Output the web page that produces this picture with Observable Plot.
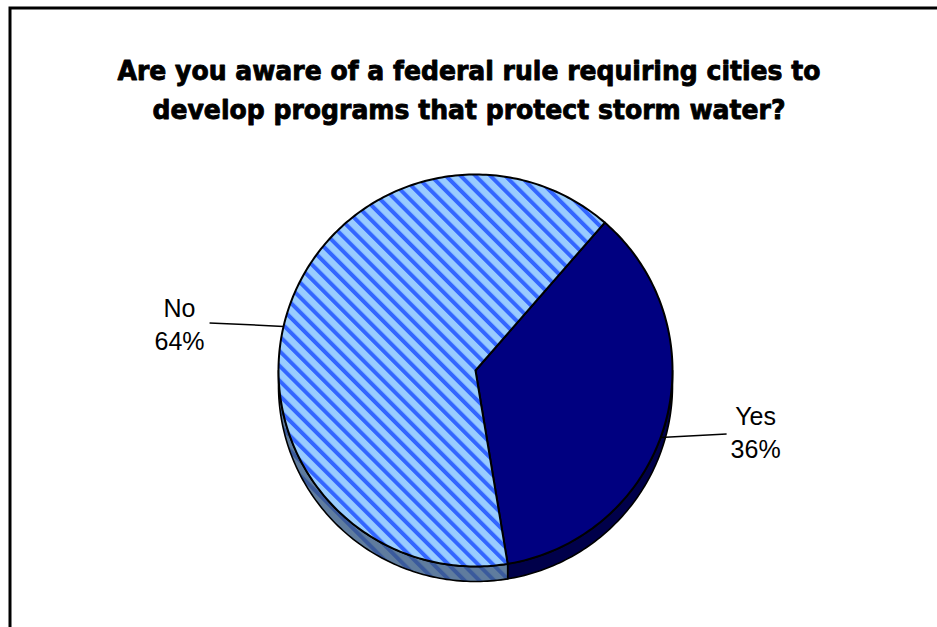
<!DOCTYPE html>
<html><head><meta charset="utf-8">
<script src="https://cdn.jsdelivr.net/npm/d3@7"></script>
<script src="https://cdn.jsdelivr.net/npm/@observablehq/plot@0.6"></script>
<style>
html,body{margin:0;padding:0;background:#fff;overflow:hidden;}
#chart{position:relative;width:937px;height:627px;overflow:hidden;}
#chart svg{overflow:hidden;}
</style></head><body><div id="chart"></div>
<script>
// ---- data ----
const titleLines = ["Are you aware of a federal rule requiring cities to", "develop programs that protect storm water?"];
const categories = ["Yes", "No"];
const percents = [36, 64];
const percentLabels = ["36%", "64%"];

// ---- layout ----
const W = 937, H = 627;
const cx = 475, cy = 370, rx = 197, ry = 196, depth = 15;
const startDeg = 41;
const topFill = {Yes: "#000080", No: "url(#stripeTop)"};
const sideFill = {Yes: "#00004a", No: "url(#stripeSide)"};
const leaderAngle = {Yes: 110, No: 283};
const leaderDx = {Yes: 66, No: -74};
const textDx = {Yes: 29, No: -30};
const textDy = {Yes: -3, No: 0};
const titleLength = [703, 633];
const dv = depth / ry;
const rad = d => d * Math.PI / 180;
const pt = (deg, drop = 0) => ({u: Math.sin(rad(deg)), v: Math.cos(rad(deg)) - drop});
function arc(a0, a1, drop = 0) {
  const pts = [];
  const n = Math.max(2, Math.ceil(Math.abs(a1 - a0)));
  for (let i = 0; i <= n; i++) pts.push(pt(a0 + (a1 - a0) * i / n, drop));
  return pts;
}

let acc = startDeg;
const slices = categories.map((c, i) => {
  const a0 = acc, a1 = acc + percents[i] * 3.6;
  acc = a1;
  return {cat: c, a0, a1, label: c + "\n" + percentLabels[i]};
});

const sideMarks = [], topMarks = [];
for (const s of slices) {
  for (const off of [0, -360]) {
    const lo = Math.max(s.a0 + off, 90), hi = Math.min(s.a1 + off, 270);
    if (hi > lo) {
      const poly = [...arc(lo, hi), ...arc(hi, lo, dv)];
      poly.push(poly[0]);
      sideMarks.push(Plot.line(poly, {x: "u", y: "v", fill: sideFill[s.cat], stroke: "#000", strokeWidth: 1.6, strokeLinejoin: "round"}));
    }
  }
  const poly = [{u: 0, v: 0}, ...arc(s.a0, s.a1), {u: 0, v: 0}];
  topMarks.push(Plot.line(poly, {x: "u", y: "v", fill: topFill[s.cat], stroke: "#000", strokeWidth: 2, strokeLinejoin: "round"}));
}

const leaders = slices.map(s => {
  const p = pt(leaderAngle[s.cat]);
  const u2 = p.u + leaderDx[s.cat] / rx, v2 = p.v + 3.5 / ry;
  return {cat: s.cat, u1: p.u, v1: p.v, u2, v2,
    tu: u2 + textDx[s.cat] / rx, tv: v2 - textDy[s.cat] / ry, label: s.label};
});

const titleFont = {fontSize: 27, fontWeight: "bold", fontFamily: "DejaVu Sans, sans-serif", fill: "#000",
  stroke: "#000", strokeWidth: 0.9, lineAnchor: "top", frameAnchor: "top"};

const chart = Plot.plot({
  width: W, height: H,
  margin: 0,
  x: {domain: [-cx / rx, (W - cx) / rx], range: [0, W], axis: null},
  y: {domain: [(cy - H) / ry, cy / ry], range: [H, 0], axis: null},
  style: {background: "#fff"},
  marks: [
    Plot.frame({insetLeft: 9.5, insetTop: 7.5, insetRight: -20, insetBottom: -20, stroke: "#000", strokeWidth: 3}),
    ...sideMarks,
    ...topMarks,
    Plot.link(leaders, {x1: "u1", y1: "v1", x2: "u2", y2: "v2", stroke: "#000", strokeWidth: 1.5}),
    Plot.text(leaders, {x: "tu", y: "tv", text: "label", fontSize: 25, lineHeight: 1.3,
      fontFamily: "Liberation Sans, Arial, sans-serif", fill: "#000", textAnchor: "middle", lineAnchor: "middle"}),
    Plot.text([titleLines[0]], {...titleFont, text: d => d, dy: 60, className: "title-line-0"}),
    Plot.text([titleLines[1]], {...titleFont, text: d => d, dy: 99, className: "title-line-1"})
  ]
});
document.getElementById("chart").appendChild(chart);

const svg = d3.select(chart);
titleLength.forEach((len, i) => {
  svg.selectAll(`.title-line-${i} text`).attr("textLength", len).attr("lengthAdjust", "spacingAndGlyphs");
});

const defs = svg.insert("defs", ":first-child");
function stripes(id, bg, fg, size, w) {
  const p = defs.append("pattern").attr("id", id).attr("patternUnits", "userSpaceOnUse")
    .attr("width", size).attr("height", size).attr("patternTransform", "rotate(-45)");
  p.append("rect").attr("width", size).attr("height", size).attr("fill", bg);
  p.append("rect").attr("width", w).attr("height", size).attr("fill", fg);
}
stripes("stripeTop", "#99ccff", "#3366ff", 10.5, 4);
stripes("stripeSide", "#5f7c9e", "#3a5a9c", 10.5, 4);
</script>
</body></html>
